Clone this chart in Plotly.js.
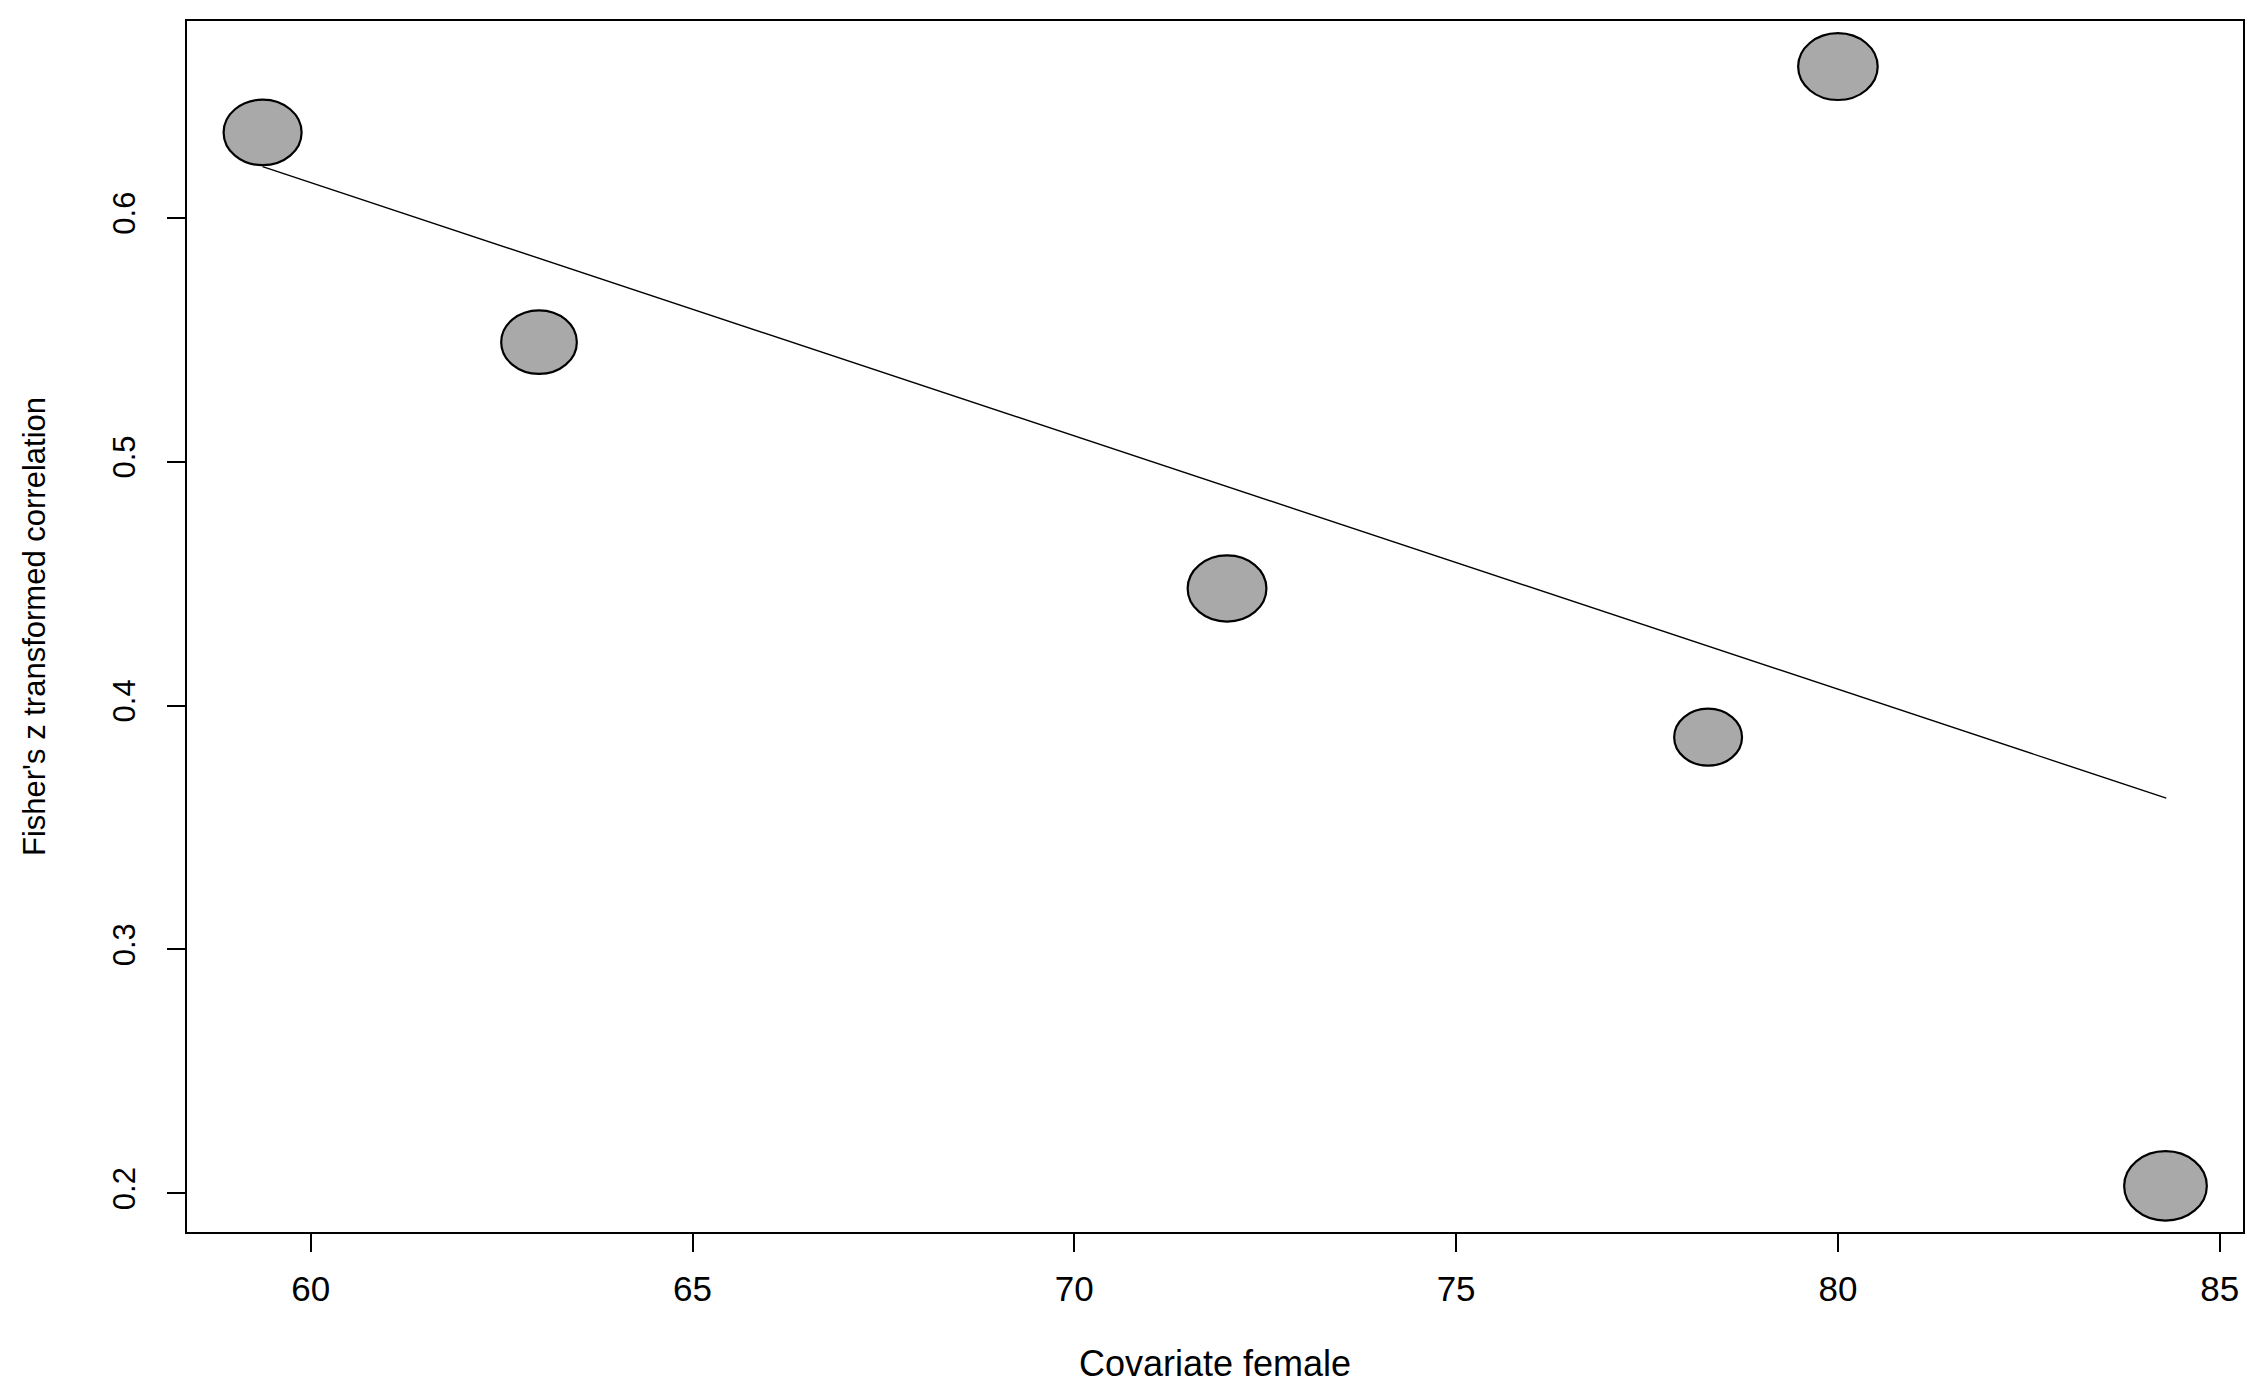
<!DOCTYPE html>
<html>
<head>
<meta charset="utf-8">
<script src="https://cdn.plot.ly/plotly-3.0.1.min.js"></script>
<style>
  html, body { margin: 0; padding: 0; background: #ffffff; }
  #chart { width: 2264px; height: 1394px; }
</style>
</head>
<body>
<div id="chart"></div>
<script>
// Data
const covariateFemale = [59.37, 62.99, 72.0, 78.3, 80.0, 84.29];
const fisherZ = [0.635, 0.549, 0.448, 0.387, 0.662, 0.203];
const relWeight = [1.0, 0.97, 1.01, 0.87, 1.02, 1.06];   // relative bubble size
const fitX = [59.37, 84.3];
const fitY = [0.621, 0.362];
const xTicks = [60, 65, 70, 75, 80, 85];
const yTicks = [0.2, 0.3, 0.4, 0.5, 0.6];

const baseRx = 39;      // pixel half-width of a bubble of weight 1
const aspect = 0.84;    // bubbles are drawn slightly flattened, as in the reference

const shapes = covariateFemale.map((xv, i) => ({
  type: 'circle',
  xref: 'x', yref: 'y',
  xsizemode: 'pixel', ysizemode: 'pixel',
  xanchor: xv, yanchor: fisherZ[i],
  x0: -baseRx * relWeight[i], x1: baseRx * relWeight[i],
  y0: -baseRx * aspect * relWeight[i], y1: baseRx * aspect * relWeight[i],
  fillcolor: '#A9A9A9',
  line: { color: '#000000', width: 2.2 },
  layer: 'above'
}));

const traces = [
  {
    x: fitX, y: fitY,
    type: 'scatter', mode: 'lines',
    line: { color: '#000000', width: 1.4 },
    hoverinfo: 'skip', showlegend: false
  },
  {
    x: covariateFemale, y: fisherZ,
    type: 'scatter', mode: 'markers',
    marker: { size: 10, color: 'rgba(0,0,0,0)' },
    showlegend: false
  }
];

const font = 'Liberation Sans, Arial, sans-serif';

const layout = {
  width: 2264, height: 1394,
  paper_bgcolor: '#ffffff', plot_bgcolor: '#ffffff',
  margin: { l: 187, r: 21, t: 21, b: 162 },
  showlegend: false,
  shapes: shapes,
  xaxis: {
    range: [58.38, 85.305],
    tickvals: xTicks,
    ticktext: xTicks.map(String),
    ticks: 'outside', ticklen: 18, tickwidth: 2, tickcolor: '#000',
    ticklabelstandoff: 7,
    showline: true, linecolor: '#000', linewidth: 2, mirror: true,
    showgrid: false, zeroline: false,
    tickfont: { family: font, size: 35, color: '#000' },
    title: { text: 'Covariate female', font: { family: font, size: 36, color: '#000' }, standoff: 44 }
  },
  yaxis: {
    range: [0.1841, 0.6807],
    tickvals: yTicks,
    ticktext: yTicks.map(v => v.toFixed(1)),
    tickangle: -90,
    ticks: 'outside', ticklen: 18, tickwidth: 2, tickcolor: '#000',
    ticklabelstandoff: 20,
    showline: true, linecolor: '#000', linewidth: 2, mirror: true,
    showgrid: false, zeroline: false,
    tickfont: { family: font, size: 31, color: '#000' },
    title: { text: "Fisher's z transformed correlation", font: { family: font, size: 31, color: '#000' }, standoff: 52 }
  }
};

Plotly.newPlot('chart', traces, layout, { staticPlot: true, displayModeBar: false });
</script>
</body>
</html>
